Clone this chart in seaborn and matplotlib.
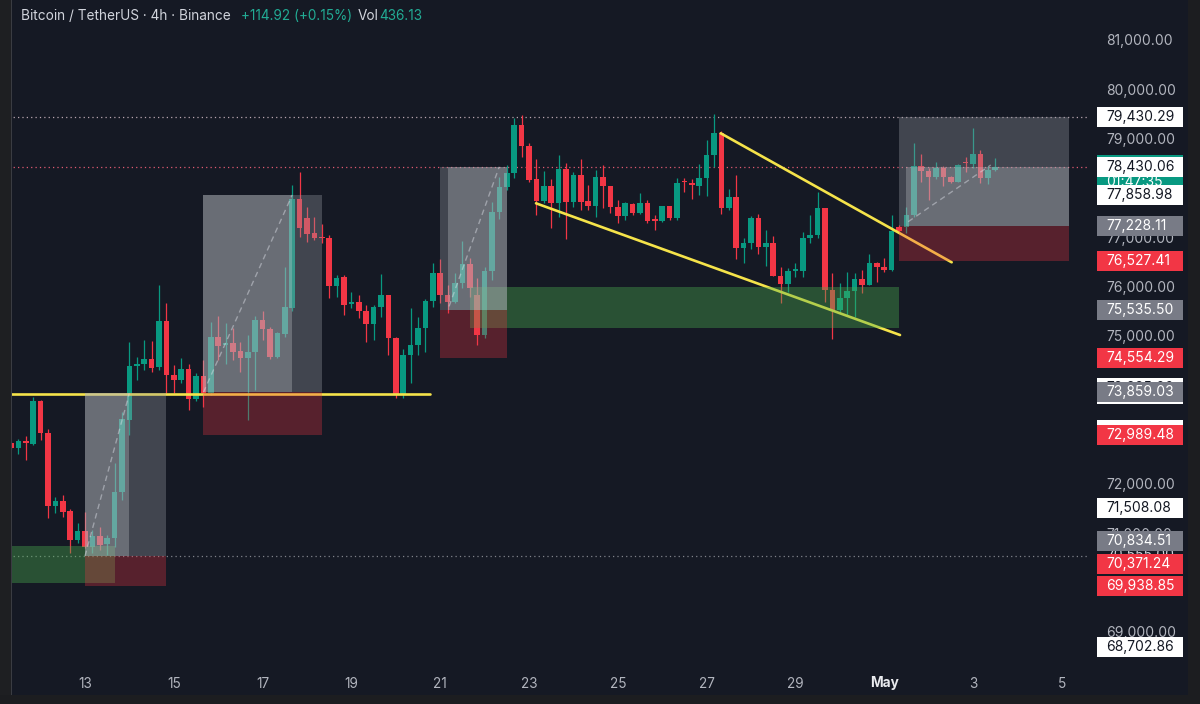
import numpy as np
import pandas as pd
import matplotlib
matplotlib.use("Agg")
import matplotlib.pyplot as plt
import matplotlib.transforms as mtransforms
from matplotlib.patches import Rectangle
import seaborn as sns

# ---------------- data ----------------
first_bar_day = 11 + 8 / 24          # Apr 11 08:00 (x axis = day of April, May 1 = 31)
bars_per_day = 6                     # 4h candles

opens = [72838, 72723, 72878, 72811, 73676, 73027, 71554, 71648, 71459, 70865,
         71054, 70730, 70946, 70777, 70912, 71838, 73298, 74392, 74432, 74527,
         74365, 75311, 74209,
         74109, 74325, 73716, 74190, 73852, 74987, 74811, 74865, 74696, 74561,
         74676, 75325, 75142, 74581, 75041, 75561, 77777, 77386, 77081, 77014,
         76994, 76014, 76190,
         75649, 75696, 75507, 75237, 75595, 75831, 74953, 73804, 74615, 74818,
         75169, 75710, 76284, 75831, 75683, 76081, 76453, 75831, 75020, 76325,
         77520, 78014, 78297,
         79277, 78852, 78176, 77737, 78041, 77689, 78378, 77723, 78264, 77737,
         77635, 78230, 78041, 77622, 77433, 77676, 77487, 77689, 77365, 77331,
         77635, 77385,
         78142, 78095, 78041, 78210, 78669, 79108, 77588, 77824, 76791, 76878,
         77385, 76811, 76878, 76223, 76054, 76324, 76324, 76993, 77048, 77602,
         75933, 75527,
         75764, 75919, 76155, 76034, 76473, 76406, 76338, 77216, 77216, 77453,
         78453, 78352, 78230, 78399, 78216, 78129, 78534, 78480, 78683, 78196,
         78365]
highs = [72860, 72905, 72973, 73770, 73700, 73115, 71743, 71777, 71486, 71202,
         71425, 71067, 71121, 70966, 72432, 73466, 74885, 74567, 74919, 74899,
         76034, 75676, 74412,
         74560, 74433, 74244, 74514, 75291, 75412, 75257, 75156, 74885, 75021,
         75406, 75514, 75190, 75088, 76392, 78061, 78331, 77622, 77419, 77271,
         77041, 76237, 76237,
         75885, 75831, 75629, 75629, 76250, 75831, 74973, 74730, 75561, 75392,
         75743, 76487, 76554, 76034, 76284, 76926, 76574, 76169, 76406, 77723,
         78230, 78466, 79412,
         79480, 78919, 78581, 78345, 78176, 78669, 78500, 78331, 78581, 78061,
         78365, 78466, 78041, 77757, 77723, 77689, 77892, 77757, 77453, 77635,
         77635, 78196,
         78210, 78176, 78480, 78973, 79500, 79162, 77980, 78264, 76980, 77439,
         77473, 77149, 77027, 76406, 76372, 76473, 77115, 77453, 77912, 77602,
         76270, 76081,
         76300, 76270, 76338, 76662, 76507, 76574, 77453, 77250, 77608, 78919,
         78689, 78399, 78520, 78446, 78243, 78480, 78622, 79210, 78770, 78446,
         78602]
lows = [72700, 72608, 72486, 72790, 72892, 71304, 71405, 71337, 70594, 70797,
        70696, 70594, 70662, 70561, 70730, 71675, 72993, 74108, 74311, 74277,
        74311, 73838, 73838,
        74041, 73500, 73689, 73568, 73804, 74514, 74433, 74514, 74277, 73297,
        73906, 74919, 74527, 74548, 74987, 75514, 77000, 76913, 76946, 76879,
        75764, 75798, 75426,
        75561, 75358, 74885, 74919, 75392, 74615, 73737, 73737, 74041, 74615,
        74683, 75595, 75662, 75460, 75662, 75966, 75797, 74818, 74953, 76135,
        77365, 77960, 78196,
        78635, 78129, 77453, 77689, 77183, 77406, 76960, 77622, 77554, 77554,
        77406, 77588, 77487, 77284, 77352, 77453, 77473, 77297, 77149, 77318,
        77352, 77352,
        77926, 77777, 77858, 77845, 78433, 77473, 77554, 76554, 76473, 76764,
        76662, 76426, 76223, 75662, 75899, 76203, 76203, 76878, 76980, 75696,
        74933, 75493,
        75420, 75392, 75878, 76034, 76101, 76304, 76324, 77081, 77081, 77406,
        78129, 77757, 78176, 78041, 78108, 78129, 78331, 78412, 78108, 78081,
        78352]
closes = [72723, 72878, 72824, 73676, 73027, 71554, 71648, 71439, 70865, 71054,
          70730, 70946, 70763, 70912, 71838, 73311, 74392, 74439, 74527, 74344,
          75311, 74209, 74108,
          74325, 73716, 74190, 73852, 74987, 74798, 74865, 74669, 74561, 74676,
          75325, 75142, 74581, 75068, 75581, 77777, 77183, 77068, 76980, 76987,
          76014, 76169, 75629,
          75696, 75507, 75237, 75595, 75831, 74953, 73804, 74615, 74818, 75169,
          75710, 76284, 75831, 75683, 76081, 76453, 75966, 75020, 76325, 77520,
          78014, 78297, 79277,
          78852, 78162, 77737, 78041, 77689, 78378, 77723, 78264, 77723, 77635,
          78230, 78041, 77622, 77433, 77689, 77487, 77689, 77331, 77338, 77635,
          77385, 78095,
          78115, 78054, 78210, 78669, 79108, 77588, 77824, 76791, 76878, 77385,
          76811, 76878, 76223, 76054, 76318, 76352, 76993, 77048, 77602, 75933,
          75527, 75764,
          75919, 76155, 76034, 76473, 76406, 76338, 77129, 77135, 77453, 78453,
          78352, 78230, 78399, 78216, 78129, 78466, 78500, 78683, 78196, 78365,
          78430]

x_ticks = [13, 15, 17, 19, 21, 23, 25, 27, 29, 31, 33, 35]
x_labels = ["13", "15", "17", "19", "21", "23", "25", "27", "29", "May", "3", "5"]
# round price levels left visible on the price scale
y_ticks = [69000, 71000, 72000, 75000, 76000, 77000, 79000, 80000, 81000]

# yellow drawings (day, price)
support_day = [11.333, 20.77]
support_price = [73820, 73820]
lower_tl_day = [23.158, 31.356]
lower_tl_price = [77690, 75020]
upper_tl_day = [27.318, 32.52]
upper_tl_price = [79109, 76494]

# long-position tools
pos_start = [13.0, 15.667, 21.0, 31.333]
pos_light_start = [13.0, 15.667, 21.167, 31.5]
pos_light_end = [14.0, 17.667, 22.5, 35.167]
pos_end = [14.833, 18.333, 22.5, 35.167]
pos_target = [73840, 77858.98, 78432, 79430.29]
pos_light_top = [73840, 77858.98, 78432, 78430.06]
pos_entry = [70540, 73859.03, 75535.50, 77228.11]
pos_stop = [69938.85, 72989.48, 74554.29, 76527.41]
path_from = [(13.0, 70540), (15.667, 73859), (21.2, 75600), (31.54, 77317)]
path_to = [(14.0, 73840), (17.667, 77859), (22.33, 78430), (33.4, 78466)]

# demand zones (green)
zone_start = [11.333, 21.667]
zone_end = [13.667, 31.333]
zone_low = [69993, 75162]
zone_high = [70743, 75993]

# price-scale labels (text, price, kind) in drawing order ("" = box fully covered)
label_texts = ["73,885.00", "", "73,859.03", "", "72,989.48",
               "79,430.29", "78,430.06", "77,858.98", "77,228.11", "76,527.41",
               "75,535.50", "74,554.29", "71,508.08", "70,834.51", "70,371.24",
               "69,938.85", "68,702.86"]
label_prices = [73946, 73825, 73859.03, 73095, 72989.48,
                79430.29, 78430.06, 77858.98, 77228.11, 76527.41,
                75535.50, 74554.29, 71508.08, 70834.51, 70371.24,
                69938.85, 68702.86]
label_kinds = ["white", "white", "gray", "white", "red",
               "white", "white", "white", "gray", "red",
               "gray", "red", "white", "gray", "red",
               "red", "white"]
last_price = 78430.06
countdown = "01:47:35"

# ---------------- style ----------------
BG = "#151924"
UP = "#089981"
DOWN = "#f23645"
YELLOW = "#f5e34a"
AXIS_TXT = "#b2b5be"

sns.set_style("dark", {"axes.facecolor": BG, "figure.facecolor": BG})
plt.rcParams["font.family"] = ["Inter", "DejaVu Sans"]

W, H = 1200, 704
fig = plt.figure(figsize=(W / 100, H / 100), dpi=100, facecolor=BG)
ax_right_px, ax_bottom_px = 1088, 664
ax = fig.add_axes([0, (H - ax_bottom_px) / H, ax_right_px / W, ax_bottom_px / H])
ax.set_facecolor(BG)

df = pd.DataFrame({"open": opens, "high": highs, "low": lows, "close": closes})
df["t"] = first_bar_day + np.arange(len(df)) / bars_per_day
df["up"] = df["close"] >= df["open"]
colors = np.where(df["up"], UP, DOWN)

# candles
ax.vlines(df["t"], df["low"], df["high"], colors=colors, linewidth=0.9, zorder=2)
body_lo = np.minimum(df["open"], df["close"])
body_h = np.maximum(np.abs(df["close"] - df["open"]), 22)
ax.bar(df["t"], body_h, bottom=body_lo, width=0.76 / bars_per_day,
       color=colors, linewidth=0, zorder=3)

# yellow trend / support lines
for xs, ys in [(support_day, support_price), (lower_tl_day, lower_tl_price),
               (upper_tl_day, upper_tl_price)]:
    sns.lineplot(x=xs, y=ys, ax=ax, color=YELLOW, linewidth=1.9, zorder=3.5,
                 sort=False, legend=False)

# horizontal dotted price lines
ax.axhline(pos_target[3], color="#b9a6b0", linewidth=0.9, linestyle=(0, (1, 2.5)), zorder=1.5)
ax.axhline(last_price, color="#e05a72", linewidth=0.9, linestyle=(0, (1, 2.5)), zorder=1.5)
ax.axhline(pos_entry[0], color="#c8cad0", linewidth=0.9, linestyle=(0, (1, 2.5)),
           alpha=0.6, zorder=1.5)

# demand zones
for s, e, lo, hi in zip(zone_start, zone_end, zone_low, zone_high):
    ax.add_patch(Rectangle((s, lo), e - s, hi - lo, facecolor="#4caf50", alpha=0.38,
                           edgecolor="none", zorder=4))

# position tools
for i in range(len(pos_start)):
    s, e = pos_start[i], pos_end[i]
    ax.add_patch(Rectangle((s, pos_entry[i]), e - s, pos_target[i] - pos_entry[i],
                           facecolor="#9598a1", alpha=0.35, edgecolor="none", zorder=4.2))
    ax.add_patch(Rectangle((pos_light_start[i], pos_entry[i]),
                           pos_light_end[i] - pos_light_start[i],
                           pos_light_top[i] - pos_entry[i],
                           facecolor="#c8cad0", alpha=0.30, edgecolor="none", zorder=4.3))
    ax.add_patch(Rectangle((s, pos_stop[i]), e - s, pos_entry[i] - pos_stop[i],
                           facecolor=DOWN, alpha=0.30, edgecolor="none", zorder=4.2))
    (x0, y0), (x1, y1) = path_from[i], path_to[i]
    ax.plot([x0, x1], [y0, y1], color="#e0e3eb", alpha=0.45, linewidth=1.0,
            linestyle=(0, (4, 3)), zorder=4.5)

# axes & ticks
ax.set_xlim(13 - 85 / 44.4, 13 + (ax_right_px - 85) / 44.4)
ax.set_ylim(81000 - (ax_bottom_px - 40) * 12000 / 592, 81000 + 40 * 12000 / 592)
for sp in ax.spines.values():
    sp.set_visible(False)
ax.grid(False)
ax.set_xticks(x_ticks)
ax.set_xticklabels(x_labels)
ax.tick_params(axis="x", length=0, pad=9, labelsize=9.8, labelcolor=AXIS_TXT)
xl = ax.get_xticklabels()[x_labels.index("May")]
xl.set_color("#e9eaee")
xl.set_fontweight("bold")
ax.yaxis.tick_right()
ax.set_yticks(y_ticks)
ax.set_yticklabels([f"{v:,.2f}" for v in y_ticks])
ax.tick_params(axis="y", length=0, pad=13, labelsize=10, labelcolor=AXIS_TXT)
ax.set_xlabel("")
ax.set_ylabel("")

# price-scale labels
trans = mtransforms.blended_transform_factory(fig.transFigure, ax.transData)
px_price = 12000 / 592
box_x0, box_w, txt_x = 1097 / W, 86 / W, 1106 / W
styles = {"white": ("#ffffff", "#131722"), "gray": ("#787b86", "#ffffff"),
          "red": ("#f23645", "#ffffff")}

# current price block (green) with countdown
ax.add_patch(Rectangle((box_x0, last_price - 20 * px_price), box_w, 32 * px_price,
                       transform=trans, facecolor=UP, edgecolor="none",
                       clip_on=False, zorder=19))
ax.text(txt_x, last_price - 15 * px_price, countdown, transform=trans, ha="left",
        va="center", fontsize=10, color="#ffffff", zorder=19.5, clip_on=False)
# partially hidden label between boxes
ax.text(txt_x, 70560, "70,555.00", transform=trans, ha="left", va="center",
        fontsize=10, color="#d1d4dc", zorder=19.5, clip_on=False)

for k, (txt, pr, kind) in enumerate(zip(label_texts, label_prices, label_kinds)):
    fc, tc = styles[kind]
    z = 20 + k * 0.1
    ax.add_patch(Rectangle((box_x0, pr - 10 * px_price), box_w, 20 * px_price,
                           transform=trans, facecolor=fc, edgecolor="none",
                           clip_on=False, zorder=z))
    if txt:
        ax.text(txt_x, pr, txt, transform=trans, ha="left", va="center", fontsize=10,
                color=tc, zorder=z + 0.05, clip_on=False)

# header
hy = 1 - 16 / H
fig.text(21 / W, hy, "Bitcoin / TetherUS · 4h · Binance", color="#d1d4dc",
         fontsize=9.8, va="center", ha="left")
fig.text(241 / W, hy, "+114.92 (+0.15%)", color="#22ab94", fontsize=9.8,
         va="center", ha="left")
fig.text(358 / W, hy, "Vol", color="#d1d4dc", fontsize=9.8, va="center", ha="left")
fig.text(379 / W, hy, "436.13", color="#22ab94", fontsize=9.8, va="center", ha="left")

# window frame strips
fig.patches.append(Rectangle((0, 0), 11 / W, 1, transform=fig.transFigure,
                             facecolor="#1e1f22", edgecolor="none", zorder=5))
fig.patches.append(Rectangle((11 / W, 0), 1 / W, 1, transform=fig.transFigure,
                             facecolor="#3a3c42", edgecolor="none", zorder=5))
fig.patches.append(Rectangle((1188 / W, 0), 12 / W, 1, transform=fig.transFigure,
                             facecolor="#1c1d20", edgecolor="none", zorder=5))
fig.patches.append(Rectangle((0, 0), 1, 9 / H, transform=fig.transFigure,
                             facecolor="#1c1d20", edgecolor="none", zorder=5))

fig.savefig("out.png", dpi=100, facecolor=BG)
